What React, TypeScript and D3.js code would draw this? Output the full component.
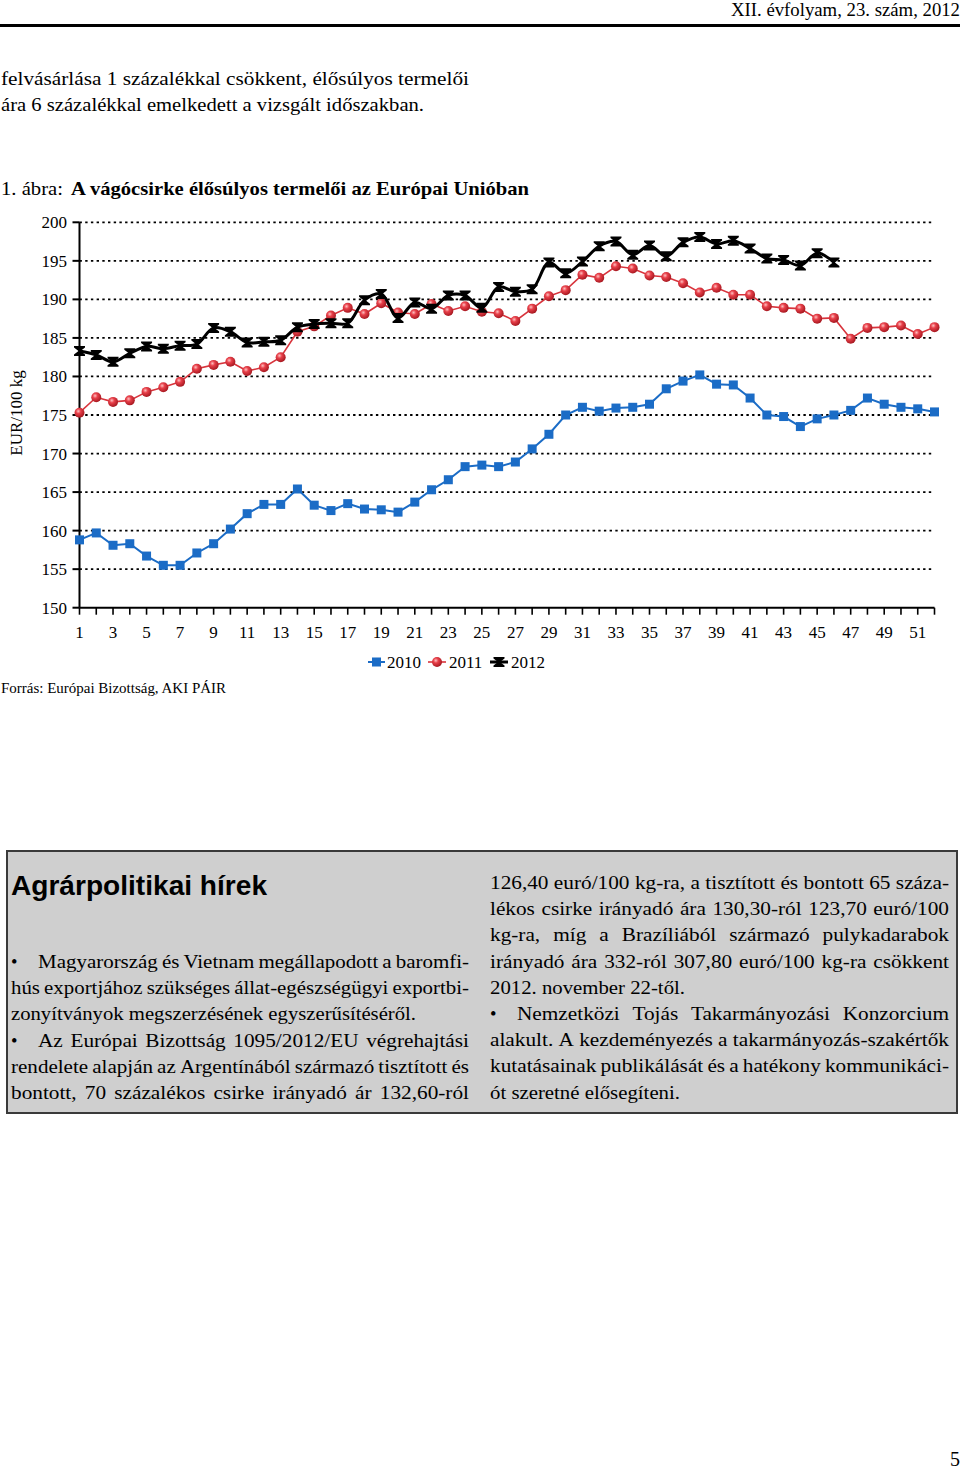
import React from "react";
import * as d3 from "d3";

const price2010 = [158.8,159.7,158.1,158.3,156.7,155.5,155.5,157.1,158.3,160.2,162.2,163.4,163.4,165.4,163.3,162.6,163.5,162.8,162.7,162.4,163.7,165.3,166.6,168.3,168.5,168.3,168.9,170.6,172.5,175.0,176.0,175.5,175.9,176.0,176.4,178.4,179.4,180.2,179.0,178.9,177.2,175.0,174.8,173.5,174.5,175.0,175.6,177.2,176.4,176.0,175.8,175.4];
const price2011 = [175.3,177.3,176.7,176.9,178.0,178.6,179.3,181.0,181.5,181.9,180.7,181.2,182.5,185.8,186.5,187.9,188.9,188.1,189.5,188.3,188.1,189.4,188.5,189.1,188.4,188.2,187.2,188.8,190.4,191.2,193.2,192.8,194.3,194.0,193.1,192.9,192.1,190.9,191.5,190.6,190.6,189.1,188.9,188.8,187.5,187.6,184.9,186.3,186.4,186.6,185.5,186.4];
const price2012 = [183.3,182.8,181.9,183.0,183.9,183.6,184.0,184.2,186.3,185.8,184.4,184.5,184.7,186.4,186.8,186.9,186.9,189.9,190.7,187.6,189.6,188.8,190.5,190.5,188.9,191.6,191.0,191.3,194.8,193.4,194.9,196.9,197.5,195.8,197.0,195.6,197.4,198.1,197.2,197.6,196.6,195.3,195.1,194.4,196.0,194.8];
const yTicks = [150,155,160,165,170,175,180,185,190,195,200];
const xLabels = [1,3,5,7,9,11,13,15,17,19,21,23,25,27,29,31,33,35,37,39,41,43,45,47,49,51];
const weekCount = 52;
const seriesNames = ["2010","2011","2012"];

const SERIF = "'Liberation Serif', 'Times New Roman', serif";
const SANS = "'Liberation Sans', Arial, sans-serif";

let ctx: CanvasRenderingContext2D | null = null;
function measure(text: string, size: number): number {
  if (!ctx) {
    const c = document.createElement("canvas");
    ctx = c.getContext("2d");
  }
  if (!ctx) return text.length * size * 0.45;
  ctx.font = `${size}px "Liberation Serif"`;
  return ctx.measureText(text).width;
}

const HSTRETCH = 1.15;

function JLine({ text, x0, x1, y, size, bullet, indent, justify }: any) {
  const words = text.split(" ").filter((w: string) => w.length);
  const out: any[] = [];
  let start = x0;
  if (bullet) {
    out.push(<text key="b" x={x0} y={y} fontSize={size} fontFamily={SERIF}>•</text>);
    start = x0 + indent;
  }
  if (!justify) {
    out.push(
      <text key="t" x={start} y={y} fontSize={size} fontFamily={SERIF} textLength={x1 - start} lengthAdjust="spacingAndGlyphs">
        {words.join(" ")}
      </text>
    );
    return <g>{out}</g>;
  }
  const widths = words.map((w: string) => measure(w, size) * HSTRETCH);
  const total = widths.reduce((a: number, b: number) => a + b, 0);
  const avail = x1 - start;
  let scale = 1;
  const minGap = size * 0.22;
  if (total + minGap * (words.length - 1) > avail) scale = (avail - minGap * (words.length - 1)) / total;
  const gap = words.length > 1 ? (avail - total * scale) / (words.length - 1) : 0;
  let x = start;
  words.forEach((w: string, i: number) => {
    out.push(
      <text key={i} x={x} y={y} fontSize={size} fontFamily={SERIF}
        textLength={widths[i] * scale} lengthAdjust="spacingAndGlyphs">{w}</text>
    );
    x += widths[i] * scale + gap;
  });
  return <g>{out}</g>;
}

const leftLines = [
  { t: "Magyarország és Vietnam megállapodott a baromfi-", b: true, j: true },
  { t: "hús exportjához szükséges állat-egészségügyi exportbi-", j: true },
  { t: "zonyítványok megszerzésének egyszerűsítéséről.", j: false, end: 416 },
  { t: "Az Európai Bizottság 1095/2012/EU végrehajtási", b: true, j: true },
  { t: "rendelete alapján az Argentínából származó tisztított és", j: true },
  { t: "bontott, 70 százalékos csirke irányadó ár 132,60-ról", j: true },
];
const rightLines = [
  { t: "126,40 euró/100 kg-ra, a tisztított és bontott 65 száza-", j: true },
  { t: "lékos csirke irányadó ára 130,30-ról 123,70 euró/100", j: true },
  { t: "kg-ra, míg a Brazíliából származó pulykadarabok", j: true },
  { t: "irányadó ára 332-ról 307,80 euró/100 kg-ra csökkent", j: true },
  { t: "2012. november 22-től.", j: false, end: 685 },
  { t: "Nemzetközi Tojás Takarmányozási Konzorcium", b: true, j: true },
  { t: "alakult. A kezdeményezés a takarmányozás-szakértők", j: true },
  { t: "kutatásainak publikálását és a hatékony kommunikáci-", j: true },
  { t: "ót szeretné elősegíteni.", j: false, end: 680 },
];

export default function App() {
  const x = d3.scaleLinear().domain([1, weekCount]).range([79.5, 934.5]);
  const y = d3.scaleLinear().domain([150, 200]).range([607.7, 222.3]);

  const lineStraight = d3.line<number>().x((_, i) => x(i + 1)).y((d) => y(d));
  const lineSmooth = d3.line<number>().x((_, i) => x(i + 1)).y((d) => y(d)).curve(d3.curveCatmullRom.alpha(0.5));

  const blue = "#1b6cc6";
  const red = "#d8343c";
  const hourglass = "M-5.5,-5 L5.5,-5 L5.5,-3.5 L1,0 L5.5,3.5 L5.5,5 L-5.5,5 L-5.5,3.5 L-1,0 L-5.5,-3.5 Z";

  const weeks = d3.range(1, weekCount + 1);

  return (
    <svg width={960} height={1469} style={{ position: "absolute", left: 0, top: 0, background: "#fff" }}>
      <defs>
        <radialGradient id="ball" cx="0.38" cy="0.35" r="0.7">
          <stop offset="0" stopColor="#ffc0c0" />
          <stop offset="0.35" stopColor="#e8404a" />
          <stop offset="1" stopColor="#a0141c" />
        </radialGradient>
      </defs>
      <rect x={0} y={0} width={960} height={1469} fill="#fff" />

      {/* header */}
      <text x={960} y={16} textAnchor="end" fontSize={18} fontFamily={SERIF} textLength={229} lengthAdjust="spacingAndGlyphs">XII. évfolyam, 23. szám, 2012</text>
      <line x1={0} x2={960} y1={25.5} y2={25.5} stroke="#000" strokeWidth={3} />

      <text x={1} y={85} fontSize={19} fontFamily={SERIF} textLength={468} lengthAdjust="spacingAndGlyphs">felvásárlása 1 százalékkal csökkent, élősúlyos termelői</text>
      <text x={1} y={111} fontSize={19} fontFamily={SERIF} textLength={423} lengthAdjust="spacingAndGlyphs">ára 6 százalékkal emelkedett a vizsgált időszakban.</text>

      {/* figure title */}
      <text x={1} y={195} fontSize={19} fontFamily={SERIF} textLength={62} lengthAdjust="spacingAndGlyphs">1. ábra:</text>
      <text x={71} y={195} fontSize={19} fontWeight="bold" fontFamily={SERIF} textLength={458} lengthAdjust="spacingAndGlyphs">A vágócsirke élősúlyos termelői az Európai Unióban</text>

      {/* gridlines */}
      {yTicks.filter((t) => t > 150).map((t) => (
        <line key={t} x1={x(1)} x2={x(weekCount)} y1={y(t)} y2={y(t)} stroke="#000" strokeWidth={1.8} strokeDasharray="2.4 3.3" />
      ))}
      {/* y axis */}
      <line x1={x(1)} x2={x(1)} y1={y(200)} y2={y(150)} stroke="#000" strokeWidth={2} />
      {yTicks.map((t) => (
        <g key={t}>
          <line x1={x(1) - 7} x2={x(1)} y1={y(t)} y2={y(t)} stroke="#000" strokeWidth={2} />
          <text x={67} y={y(t) + 6} textAnchor="end" fontSize={17} fontFamily={SERIF}>{t}</text>
        </g>
      ))}
      <text transform={`translate(22,${413}) rotate(-90)`} textAnchor="middle" fontSize={17} fontFamily={SERIF}>EUR/100 kg</text>

      {/* x axis */}
      <line x1={x(1)} x2={x(weekCount)} y1={y(150)} y2={y(150)} stroke="#000" strokeWidth={2} />
      {weeks.map((w) => (
        <line key={w} x1={x(w)} x2={x(w)} y1={y(150)} y2={y(150) + 7} stroke="#000" strokeWidth={1.6} />
      ))}
      {xLabels.map((w) => (
        <text key={w} x={x(w)} y={638} textAnchor="middle" fontSize={17} fontFamily={SERIF}>{w}</text>
      ))}

      {/* series 2010 */}
      <path d={lineStraight(price2010) || ""} fill="none" stroke={blue} strokeWidth={2} />
      {price2010.map((v, i) => (
        <rect key={i} x={x(i + 1) - 4.5} y={y(v) - 4.5} width={9} height={9} fill={blue} />
      ))}
      {/* series 2011 */}
      <path d={lineStraight(price2011) || ""} fill="none" stroke={red} strokeWidth={1.6} />
      {price2011.map((v, i) => (
        <circle key={i} cx={x(i + 1)} cy={y(v)} r={5} fill="url(#ball)" />
      ))}
      {/* series 2012 */}
      <path d={lineSmooth(price2012) || ""} fill="none" stroke="#000" strokeWidth={3} />
      {price2012.map((v, i) => (
        <path key={i} d={hourglass} transform={`translate(${x(i + 1)},${y(v)})`} fill="#000" />
      ))}

      {/* legend */}
      <g>
        <line x1={368} x2={385} y1={662} y2={662} stroke={blue} strokeWidth={2} />
        <rect x={372} y={657.5} width={9} height={9} fill={blue} />
        <text x={387} y={668} fontSize={17} fontFamily={SERIF}>{seriesNames[0]}</text>
        <line x1={428} x2={446} y1={662} y2={662} stroke={red} strokeWidth={1.6} />
        <circle cx={437} cy={662} r={5} fill="url(#ball)" />
        <text x={449} y={668} fontSize={17} fontFamily={SERIF}>{seriesNames[1]}</text>
        <line x1={490} x2={508} y1={662} y2={662} stroke="#000" strokeWidth={3} />
        <path d={hourglass} transform="translate(499,662)" fill="#000" />
        <text x={511} y={668} fontSize={17} fontFamily={SERIF}>{seriesNames[2]}</text>
      </g>

      <text x={1} y={693} fontSize={14.5} fontFamily={SERIF} textLength={225} lengthAdjust="spacingAndGlyphs">Forrás: Európai Bizottság, AKI PÁIR</text>

      {/* news box */}
      <rect x={7} y={851} width={950} height={262} fill="#cfcfcf" stroke="#3a3a3a" strokeWidth={2} />
      <text x={11} y={895} fontSize={28} fontWeight="bold" fontFamily={SANS} textLength={256} lengthAdjust="spacingAndGlyphs">Agrárpolitikai hírek</text>

      {leftLines.map((l, i) => (
        <JLine key={i} text={l.t} x0={11} x1={l.j ? 469 : l.end} y={968 + i * 26.2} size={18.5} bullet={l.b} indent={27} justify={l.j} />
      ))}
      {rightLines.map((l, i) => (
        <JLine key={i} text={l.t} x0={490} x1={l.j ? 949 : l.end} y={889 + i * 26.2} size={18.5} bullet={l.b} indent={27} justify={l.j} />
      ))}

      <text x={955} y={1466} textAnchor="middle" fontSize={20} fontFamily={SERIF}>5</text>
    </svg>
  );
}
